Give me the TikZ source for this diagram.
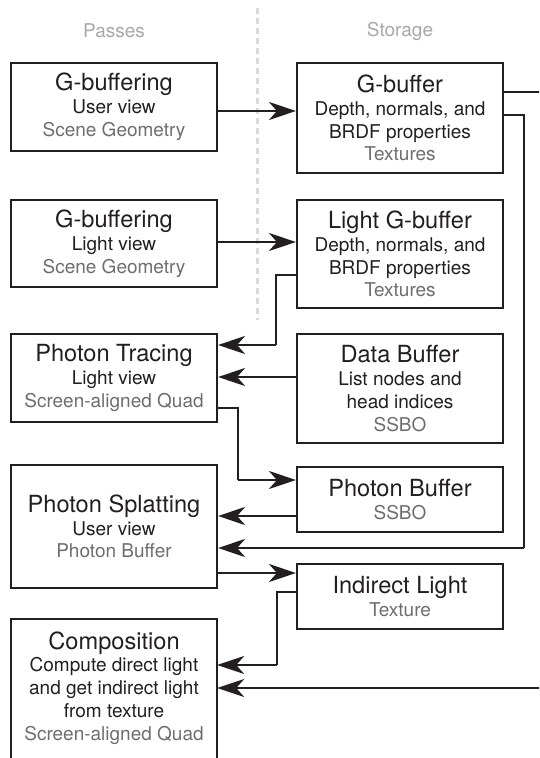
\documentclass[tikz,border=0pt]{standalone}
\usepackage{fontspec}
\setmainfont{TeX Gyre Heros}
\usetikzlibrary{arrows.meta}
\definecolor{ink}{HTML}{231F20}
\definecolor{subgray}{HTML}{6E6E6E}
\definecolor{hdrgray}{HTML}{A8A8A8}
\definecolor{sepgray}{HTML}{DADADA}
\newcommand{\boxsubfont}{\fontsize{19}{22.8}\selectfont}
\newcommand{\boxtitlefont}{\fontsize{23.6}{22.8}\selectfont}
\tikzset{
  box/.style={draw=ink, line width=2.1pt, minimum width=206pt, inner sep=0pt,
    align=center, text=ink, font=\boxsubfont, fill=white},
  hdr/.style={text=hdrgray, font=\boxsubfont},
  arr/.style={draw=ink, line width=2.7pt, -{Stealth[length=27pt,width=18pt,inset=8pt]}},
  route/.style={draw=ink, line width=1.9pt},
  plain/.style={draw=ink, line width=2.4pt}
}
\begin{document}
\begin{tikzpicture}[x=1pt,y=-1pt]
\useasboundingbox (0,0) rectangle (539,758);
\clip (0,0) rectangle (539,758);

% headers and separator
\node[hdr] (hpass) at (114,31) {Passes};
\node[hdr] (hstore) at (400,31) {Storage};
\draw[sepgray, line width=3pt, dash pattern=on 6pt off 4pt] (257,8) -- (257,320);

% left column
\node[box, minimum height=88pt] (gb1) at (114,107)
  {{\boxtitlefont G-buffering}\\User view\\\textcolor{subgray}{Scene Geometry}};
\node[box, minimum height=87pt] (gb2) at (114,243.5)
  {{\boxtitlefont G-buffering}\\Light view\\\textcolor{subgray}{Scene Geometry}};
\node[box, minimum height=88pt] (pt) at (114,378)
  {{\boxtitlefont Photon Tracing}\\Light view\\\textcolor{subgray}{Screen-aligned Quad}};
\node[box, minimum height=123pt] (ps) at (114,526.5)
  {{\boxtitlefont Photon Splatting}\\User view\\\textcolor{subgray}{Photon Buffer}};
\node[align=center, text=ink, font=\boxsubfont, minimum width=206pt, minimum height=138pt, inner sep=0pt] (comp) at (114,688)
  {{\boxtitlefont Composition}\\Compute direct light\\and get indirect light\\from texture\\\textcolor{subgray}{Screen-aligned Quad}};
\draw[draw=ink, line width=2.1pt] ([yshift=-40pt]comp.south west) -- (comp.north west) -- (comp.north east) -- ([yshift=-40pt]comp.south east);

% right column
\node[box, minimum height=110pt] (gbuf) at (400,118)
  {{\boxtitlefont G-buffer}\\Depth, normals, and\\BRDF properties\\\textcolor{subgray}{Textures}};
\node[box, minimum height=108pt] (lgbuf) at (400,254)
  {{\boxtitlefont Light G-buffer}\\Depth, normals, and\\BRDF properties\\\textcolor{subgray}{Textures}};
\node[box, minimum height=109pt] (data) at (400,388.5)
  {{\boxtitlefont Data Buffer}\\List nodes and\\head indices\\\textcolor{subgray}{SSBO}};
\node[box, minimum height=65pt] (phbuf) at (400,499.5)
  {{\boxtitlefont Photon Buffer}\\\textcolor{subgray}{SSBO}};
\node[box, minimum height=65pt] (ind) at (400,596.5)
  {{\boxtitlefont Indirect Light}\\\textcolor{subgray}{Texture}};

% free ends beyond the right edge
\coordinate (outA) at (560,92);
\coordinate (outB) at (560,688);

% connectors
\draw[arr] (gb1.east |- 0,111) -- (gbuf.west |- 0,111);
\draw[arr] (gb2.east |- 0,242) -- (lgbuf.west |- 0,242);

\draw[route] (lgbuf.west |- 0,275) -| (276,345) coordinate (c3);
\draw[arr] (c3) -- (pt.east |- c3);

\draw[arr] (data.west |- 0,377) -- (pt.east |- 0,377);

\draw[route] (pt.east |- 0,408) -| (238,480) coordinate (c5);
\draw[arr] (c5) -- (phbuf.west |- c5);

\draw[arr] (phbuf.west |- 0,516) -- (ps.east |- 0,516);

\draw[plain] (gbuf.east |- outA) -- (outA);
\draw[route] (gbuf.east |- 0,115) -| (524,548) coordinate (c8);
\draw[arr] (c8) -- (ps.east |- c8);

\draw[arr] (ps.east |- 0,573) -- (ind.west |- 0,573);

\draw[route] (ind.west |- 0,592) -| (277,665) coordinate (c10);
\draw[arr] (c10) -- (comp.east |- c10);

\draw[arr] (outB) -- (comp.east |- outB);
\end{tikzpicture}
\end{document}
